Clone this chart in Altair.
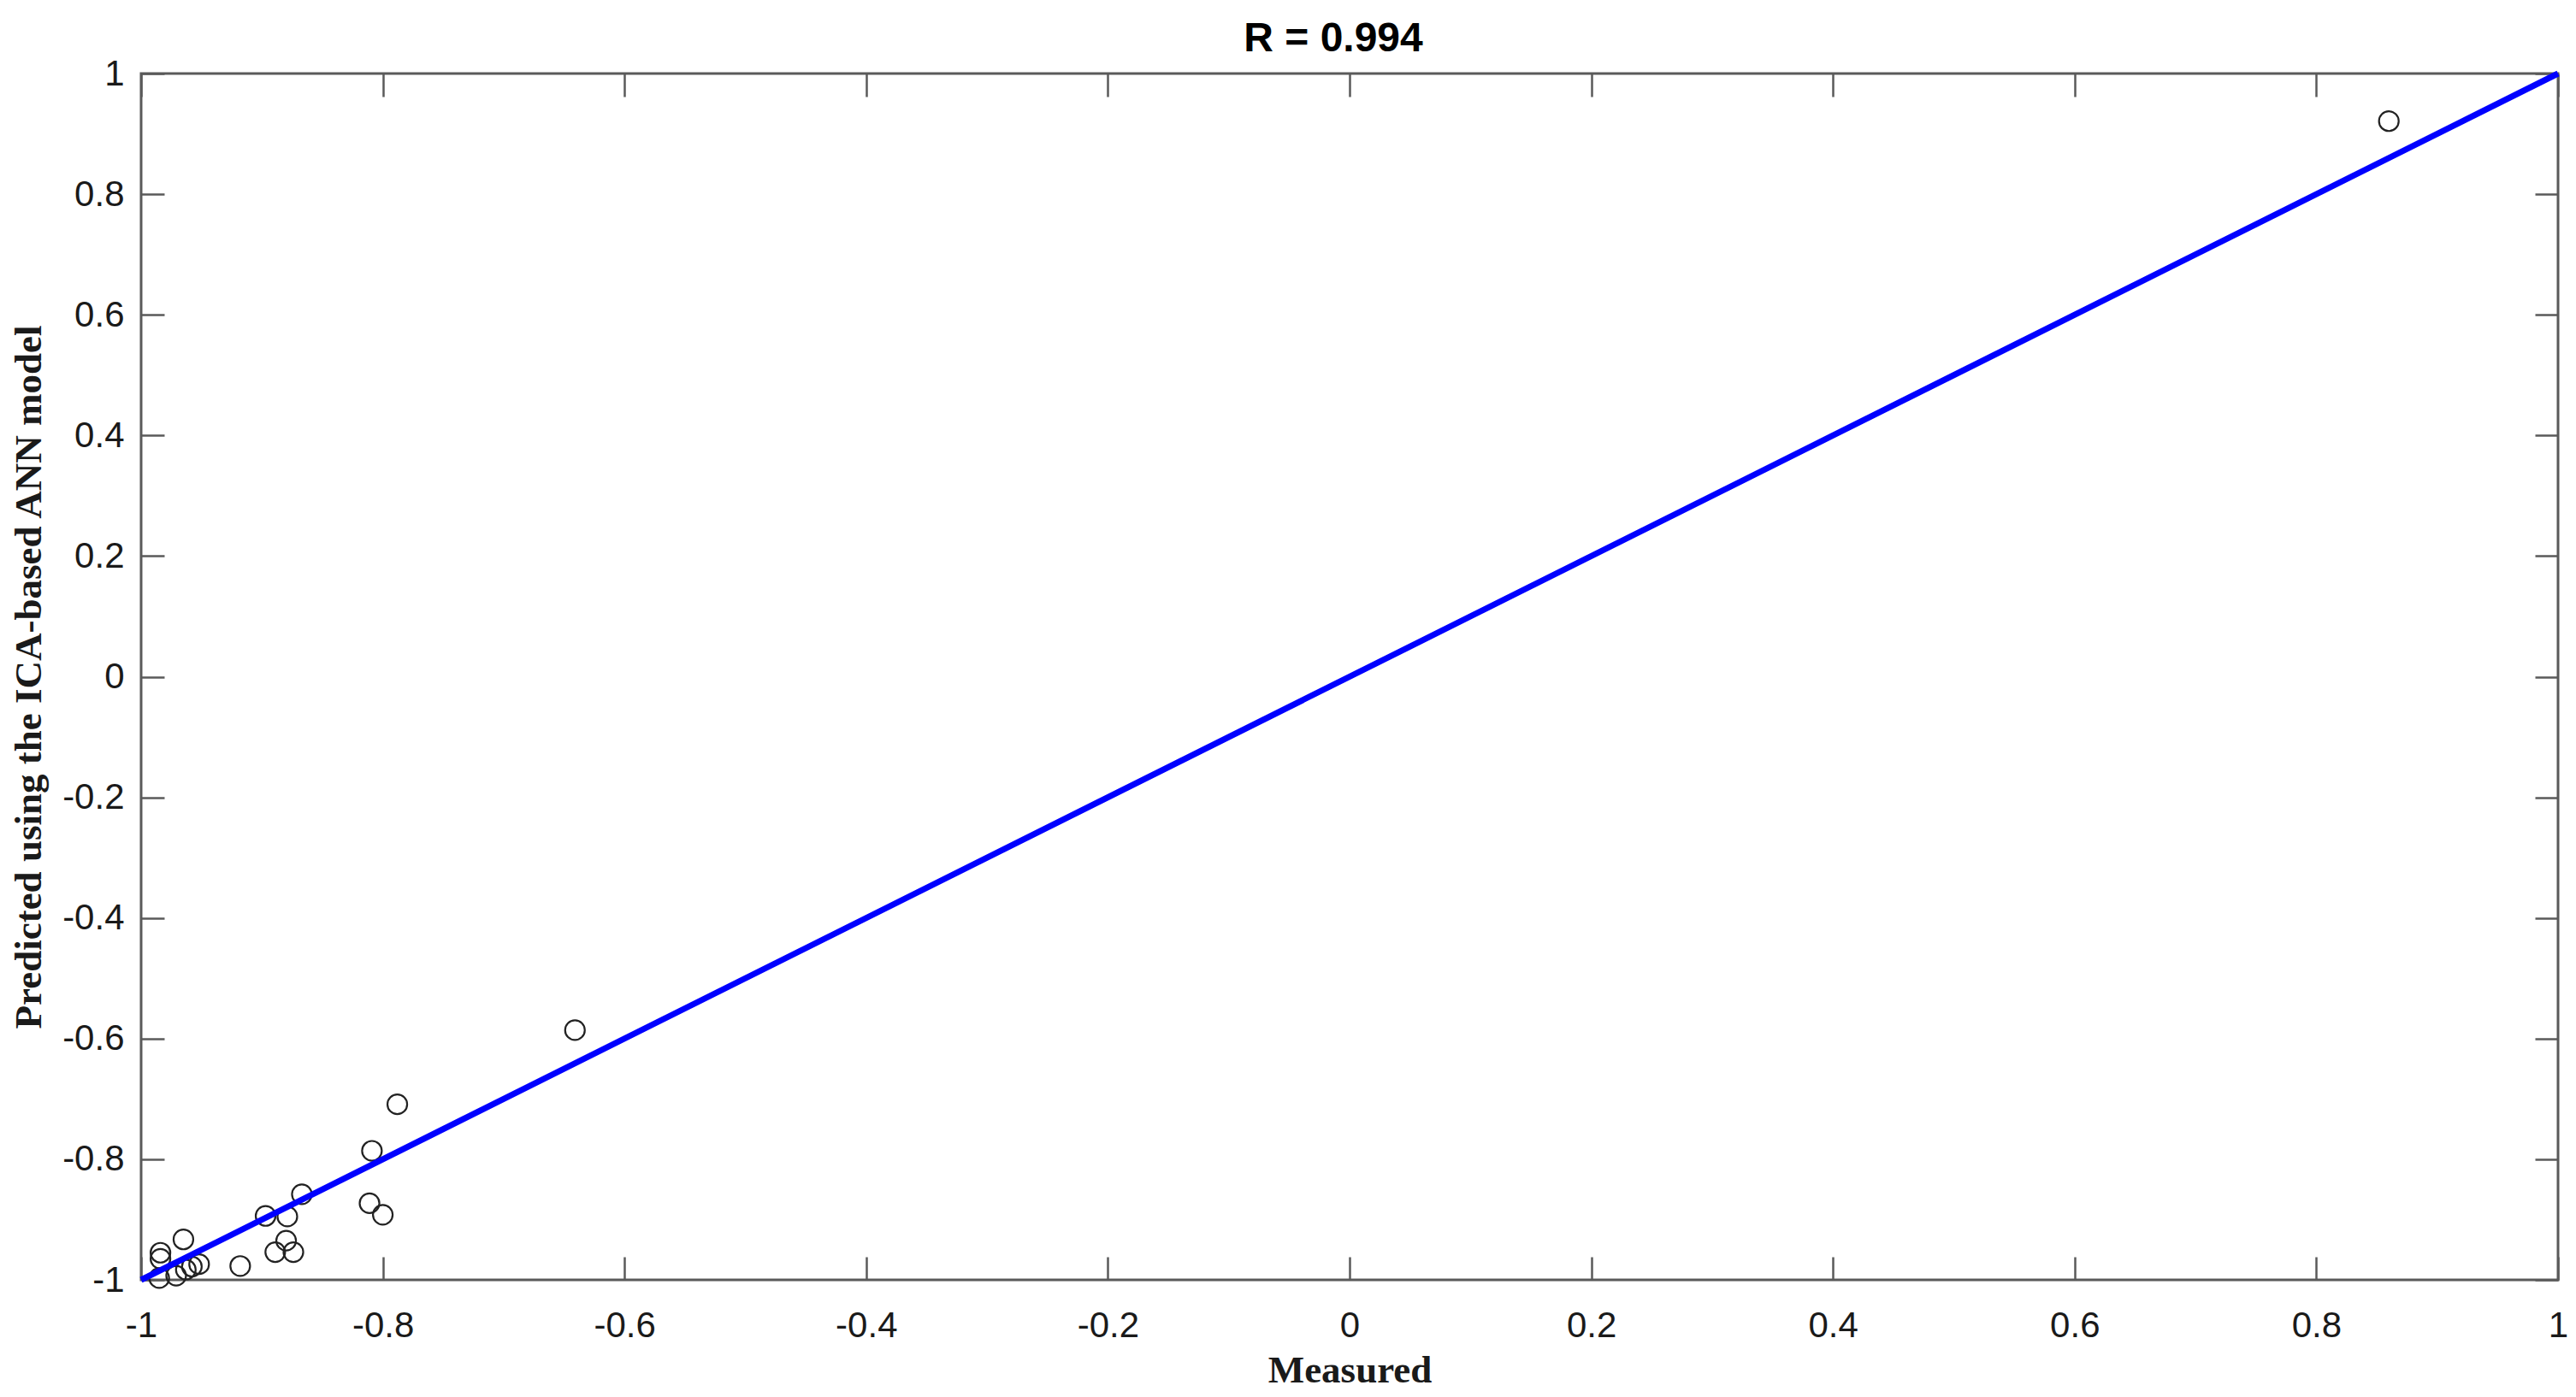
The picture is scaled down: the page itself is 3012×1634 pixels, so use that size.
import altair as alt
import pandas as pd

# ---- data ----
measured = [0.860, -0.641, -0.788, -0.809, -0.811, -0.800, -0.867, -0.897, -0.879,
            -0.880, -0.889, -0.874, -0.918, -0.965, -0.984, -0.984, -0.985, -0.971,
            -0.963, -0.958, -0.952]
predicted = [0.921, -0.586, -0.709, -0.786, -0.873, -0.892, -0.858, -0.894, -0.895,
             -0.935, -0.954, -0.954, -0.977, -0.933, -0.955, -0.965, -0.997, -0.993,
             -0.983, -0.978, -0.974]
fit_x = [-1, 1]
fit_y = [-1, 1]
tick_values = [-1, -0.8, -0.6, -0.4, -0.2, 0, 0.2, 0.4, 0.6, 0.8, 1]
title_text = "R = 0.994"
x_title = "Measured"
y_title = "Predicted using the ICA-based ANN model"

# ---- layout / style ----
W, H = 2826, 1411
TICK = 27
AXIS_COLOR = "#5a5a5a"
LABEL_FONT = "Liberation Sans"
TITLE_FONT = "Liberation Serif"
label_expr = "'' + datum.value"

pts = pd.DataFrame({"x": measured, "y": predicted})
fit = pd.DataFrame({"x": fit_x, "y": fit_y})

xs = alt.Scale(domain=[-1, 1], nice=False, zero=False)
ys = alt.Scale(domain=[-1, 1], nice=False, zero=False)

common = dict(values=tick_values, grid=False, domain=False, tickSize=TICK,
              offset=-TICK, tickColor=AXIS_COLOR, tickWidth=2.5,
              labelFlush=False, labelOverlap=False)

x_bottom = alt.Axis(orient="bottom", labelExpr=label_expr, labelFont=LABEL_FONT,
                    labelFontSize=42, labelColor="#1a1a1a", labelPadding=33,
                    title=x_title, titleFont=TITLE_FONT, titleFontSize=45,
                    titleFontWeight="bold", titleColor="#1a1a1a",
                    titleY=132, titleBaseline="middle", **common)
y_left = alt.Axis(orient="left", labelExpr=label_expr, labelFont=LABEL_FONT,
                  labelFontSize=42, labelColor="#1a1a1a", labelPadding=20,
                  labelBaseline="middle",
                  title=y_title, titleFont=TITLE_FONT, titleFontSize=45,
                  titleFontWeight="bold", titleColor="#1a1a1a", titleAngle=270,
                  titleX=-159, titleY=H / 2, titleBaseline="middle", **common)
x_top = alt.Axis(orient="top", labels=False, title=None, **common)
y_right = alt.Axis(orient="right", labels=False, title=None, **common)

points = alt.Chart(pts).mark_point(
    shape="circle", filled=False, size=530, color="#222222",
    strokeWidth=2.2, opacity=1
).encode(
    x=alt.X("x:Q", scale=xs, axis=x_bottom),
    y=alt.Y("y:Q", scale=ys, axis=y_left),
)

line = alt.Chart(fit).mark_line(color="#0000ff", strokeWidth=7).encode(
    x=alt.X("x:Q", scale=xs, axis=x_top),
    y=alt.Y("y:Q", scale=ys, axis=y_right),
)

chart = alt.layer(points, line).resolve_axis(
    x="independent", y="independent"
).properties(
    width=W, height=H,
    title=alt.Title(title_text, fontSize=48, font=LABEL_FONT, fontWeight="bold",
                    color="black", anchor="middle", offset=14, frame="group",
                    dx=-19, dy=19),
    autosize=alt.AutoSizeParams(type="none"),
    padding={"left": 157, "top": 78, "right": 13, "bottom": 128},
).configure_view(
    stroke=AXIS_COLOR, strokeWidth=3
)

chart.save("out.html", embed_options={"renderer": "svg", "actions": False})
